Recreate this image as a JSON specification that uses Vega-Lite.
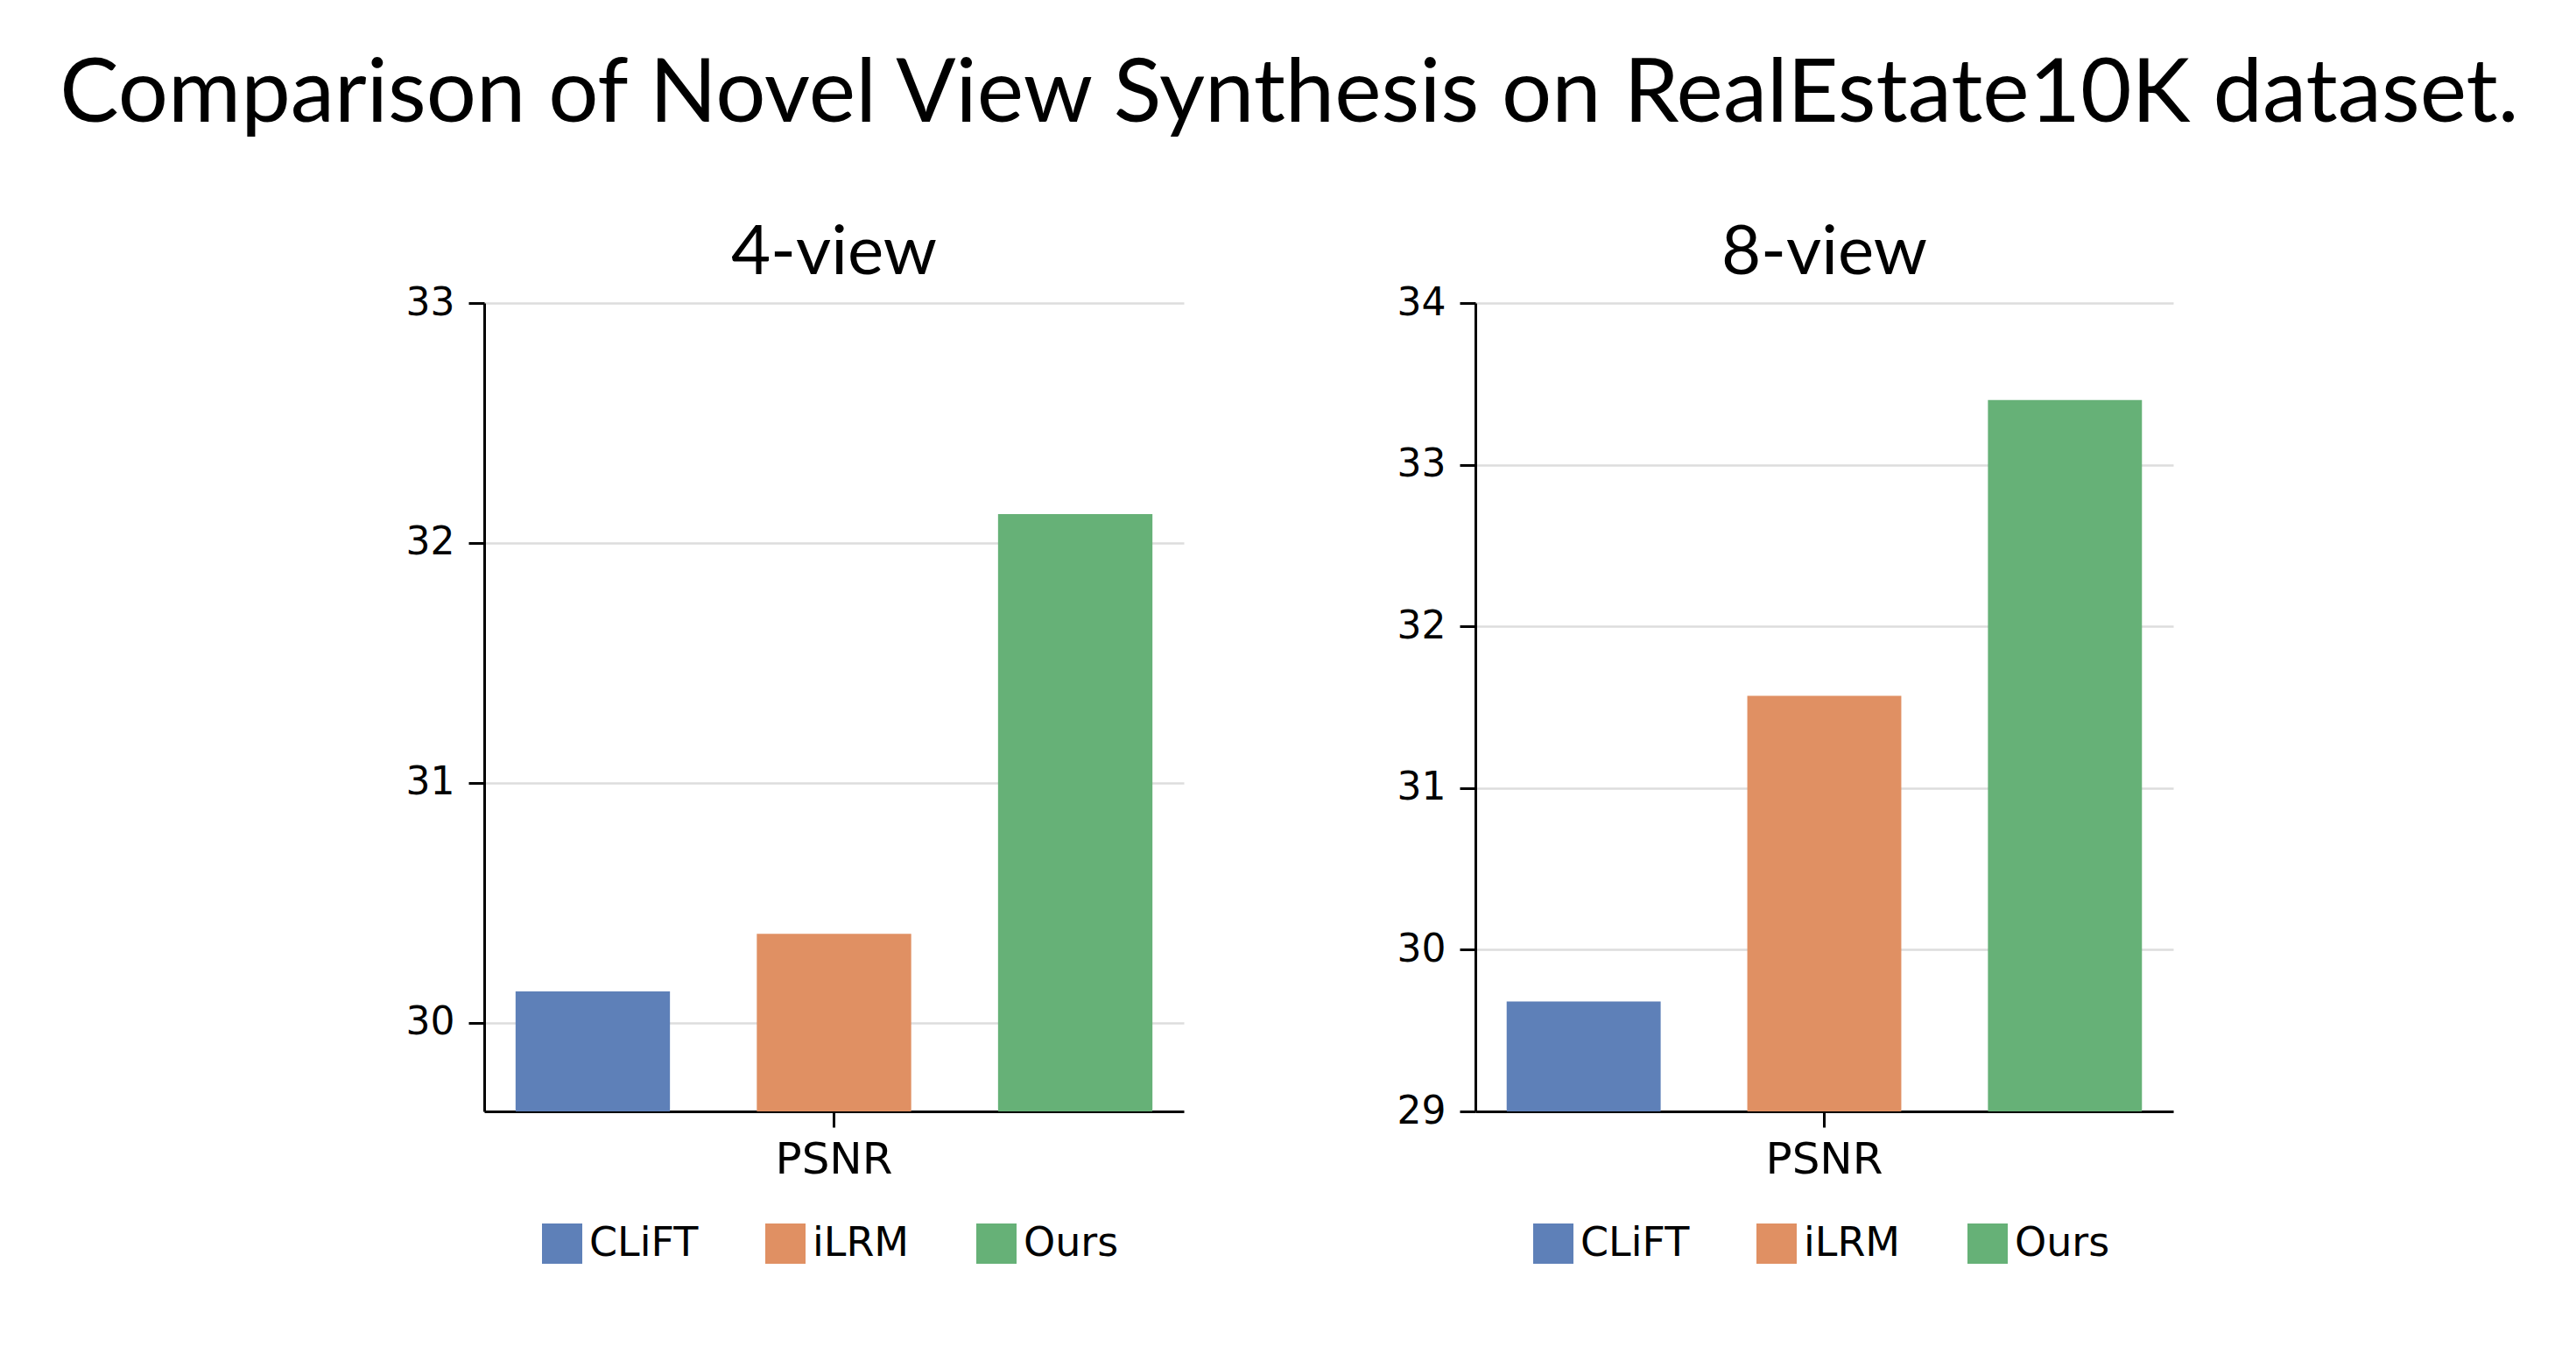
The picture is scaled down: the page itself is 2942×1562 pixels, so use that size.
{
  "$schema": "https://vega.github.io/schema/vega-lite/v6.json",
  "background": "white",
  "padding": {"left": 64, "top": 58, "right": 0, "bottom": 150},
  "title": {
    "text": "Comparison of Novel View Synthesis on RealEstate10K dataset.",
    "font": "Lato",
    "fontSize": 101,
    "fontWeight": "normal",
    "color": "black",
    "anchor": "middle",
    "baseline": "alphabetic",
    "offset": 11
  },
  "datasets": {
    "d4": [
      {"metric": "PSNR", "method": "CLiFT", "psnr": 30.13},
      {"metric": "PSNR", "method": "iLRM", "psnr": 30.37},
      {"metric": "PSNR", "method": "Ours", "psnr": 32.12}
    ],
    "d8": [
      {"metric": "PSNR", "method": "CLiFT", "psnr": 29.68},
      {"metric": "PSNR", "method": "iLRM", "psnr": 31.57},
      {"metric": "PSNR", "method": "Ours", "psnr": 33.40}
    ]
  },
  "spacing": 243,
  "hconcat": [
    {
      "title": {"text": "4-view"},
      "data": {"name": "d4"},
      "width": 799,
      "height": 923,
      "mark": {"type": "bar", "clip": true},
      "encoding": {
        "x": {"field": "metric", "type": "nominal", "scale": {"paddingInner": 0, "paddingOuter": 0}, "axis": {"title": null, "labelAngle": 0}},
        "xOffset": {"field": "method", "type": "nominal", "sort": ["CLiFT", "iLRM", "Ours"], "scale": {"paddingInner": 0.36, "paddingOuter": 0.13}},
        "y": {"field": "psnr", "type": "quantitative", "scale": {"domain": [29.63, 33], "nice": false, "zero": false}, "axis": {"values": [30, 31, 32, 33], "title": null}},
        "color": {"field": "method", "type": "nominal", "sort": ["CLiFT", "iLRM", "Ours"], "scale": {"domain": ["CLiFT", "iLRM", "Ours"], "range": ["#5e80b8", "#e09063", "#66b177"]}, "legend": {"orient": "none", "legendX": 66, "legendY": 1051}}
      }
    },
    {
      "title": {"text": "8-view"},
      "data": {"name": "d8"},
      "width": 797,
      "height": 923,
      "mark": {"type": "bar", "clip": true},
      "encoding": {
        "x": {"field": "metric", "type": "nominal", "scale": {"paddingInner": 0, "paddingOuter": 0}, "axis": {"title": null, "labelAngle": 0}},
        "xOffset": {"field": "method", "type": "nominal", "sort": ["CLiFT", "iLRM", "Ours"], "scale": {"paddingInner": 0.36, "paddingOuter": 0.13}},
        "y": {"field": "psnr", "type": "quantitative", "scale": {"domain": [29, 34], "nice": false, "zero": false}, "axis": {"values": [29, 30, 31, 32, 33, 34], "title": null}},
        "color": {"field": "method", "type": "nominal", "sort": ["CLiFT", "iLRM", "Ours"], "scale": {"domain": ["CLiFT", "iLRM", "Ours"], "range": ["#5e80b8", "#e09063", "#66b177"]}, "legend": {"orient": "none", "legendX": 66, "legendY": 1051}}
      }
    }
  ],
  "resolve": {"scale": {"y": "independent", "color": "independent", "x": "independent", "xOffset": "independent"}, "legend": {"color": "independent"}},
  "config": {
    "view": {"stroke": null},
    "title": {"font": "Lato", "fontSize": 78, "fontWeight": "normal", "color": "black", "baseline": "alphabetic", "offset": -5},
    "axis": {
      "labelFont": "DejaVu Sans",
      "labelColor": "black",
      "domainColor": "black",
      "domainWidth": 3,
      "tickColor": "black",
      "tickWidth": 3,
      "tickSize": 18,
      "labelPadding": 12
    },
    "axisY": {"labelFontSize": 44, "labelPadding": 16, "grid": true, "gridColor": "#dddddd", "gridWidth": 2.5},
    "axisX": {"labelFontSize": 50, "grid": false},
    "legend": {
      "title": null,
      "direction": "horizontal",
      "symbolType": "square",
      "symbolSize": 2116,
      "symbolStrokeWidth": 0,
      "symbolOpacity": 1,
      "labelFont": "DejaVu Sans",
      "labelFontSize": 46,
      "labelColor": "black",
      "labelOffset": 8,
      "labelLimit": 400,
      "columnPadding": 76,
      "padding": 0
    }
  }
}
